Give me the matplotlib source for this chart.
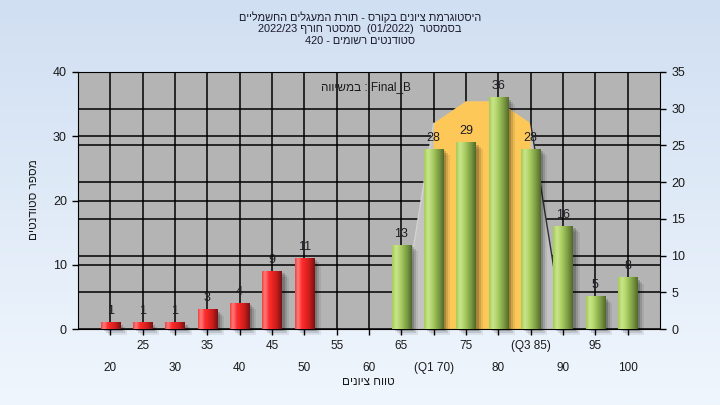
import re
import numpy as np
import matplotlib
matplotlib.use("Agg")
import matplotlib.pyplot as plt
from matplotlib.patches import Rectangle
from matplotlib.colors import LinearSegmentedColormap
from matplotlib.transforms import blended_transform_factory, ScaledTranslation

plt.rcParams['font.family'] = ['Liberation Sans', 'DejaVu Sans']

# --- data ---
grades = [20, 25, 30, 35, 40, 45, 50, 55, 60, 65, 70, 75, 80, 85, 90, 95, 100]
counts = [1, 1, 1, 3, 4, 9, 11, 0, 0, 13, 28, 29, 36, 28, 16, 5, 8]
tick_labels = ['20', '25', '30', '35', '40', '45', '50', '55', '60', '65',
               '(Q1 70)', '75', '80', '(Q3 85)', '90', '95', '100']
fail_below = 55
# bell shape, right-hand scale
curve_x = [65, 70, 75, 80, 85, 90]
curve_y = [1, 28, 31, 31, 28, 0.5]
q1, q3 = 70, 85

title_lines = ['היסטוגרמת ציונים בקורס - תורת המעגלים החשמליים',
               'בסמסטר  (01/2022)  סמסטר חורף 2022/23',
               'סטודנטים רשומים - 420']
legend_text = 'Final_B : במשיווה'
x_title = 'טווח ציונים'
y_title = 'מספר סטודנטים'


def vis(s):
    # matplotlib has no bidi: turn a logical Hebrew string into visual order
    r = s[::-1]
    r = re.sub(r'[0-9A-Za-z_/.]+', lambda m: m.group(0)[::-1], r)
    return r.translate(str.maketrans('()', ')('))


fig = plt.figure(figsize=(7.2, 4.05), dpi=100)

# background gradient
bg = fig.add_axes([0, 0, 1, 1], zorder=-10)
bg.imshow(np.linspace(0, 1, 256)[:, None], aspect='auto', extent=[0, 1, 0, 1],
          cmap=LinearSegmentedColormap.from_list('bg', ['#d0dff2', '#f0f6fd']))
bg.axis('off')

ax = fig.add_axes([78 / 720, 1 - 329 / 405, 582 / 720, 257 / 405])
ax.set_facecolor('#b4b4b4')
ax2 = ax.twinx()
ax.set_xlim(15, 105)
ax.set_ylim(0, 40)
ax2.set_ylim(0, 35)

# grids (left scale + right scale), under everything else
ax.set_axisbelow(True)
ax.set_xticks(grades)
ax.set_xticklabels([])
ax.set_yticks(range(0, 41, 10))
ax.grid(True, color='black', linewidth=1.1)
tr = blended_transform_factory(ax.transAxes, ax2.transData)
for v in range(5, 36, 5):
    ax.plot([0, 1], [v, v], transform=tr, color='black', lw=1.1, zorder=0.6)

# bell area: gray outside the quartiles, orange inside
xs = [curve_x[0]] + curve_x + [curve_x[-1]]
ys = [0] + curve_y + [0]
ax.fill(xs, ys, transform=ax2.transData, color='#c3c3c3', lw=0, zorder=1)
iq = [i for i, x in enumerate(curve_x) if q1 <= x <= q3]
ox = [q1] + [curve_x[i] for i in iq] + [q3]
oy = [0] + [curve_y[i] for i in iq] + [0]
ax.fill(ox, oy, transform=ax2.transData, color='#fdc857', lw=0, zorder=1.1)
ax.plot(curve_x[:2], curve_y[:2], transform=ax2.transData, color='#d2d2d2', lw=1, zorder=1.2)
ax.plot(curve_x[-2:], curve_y[-2:], transform=ax2.transData, color='#303030', lw=1, zorder=1.2)

# cylinder-like bars
red = LinearSegmentedColormap.from_list('r', [(0, '#e84545'), (0.15, '#ff7a7a'), (0.35, '#ff2c2c'),
                                               (0.7, '#d21e1e'), (1, '#7a1212')])
green = LinearSegmentedColormap.from_list('g', [(0, '#a4cc55'), (0.2, '#cbe68c'), (0.45, '#a9cc62'),
                                                 (0.75, '#7c9c42'), (1, '#4f6a2a')])
grad = np.linspace(0, 1, 64)[None, :]
w = 3.0
for g, c in zip(grades, counts):
    if c == 0:
        continue
    for k, a in [(3, 0.18), (5, 0.12), (7, 0.07)]:
        sh = ax.transData + ScaledTranslation(k / 100, -k / 100 + 0.01, fig.dpi_scale_trans)
        ax.add_patch(Rectangle((g - w / 2, 0), w, c, transform=sh, facecolor='black',
                               alpha=a, lw=0, zorder=2, clip_on=False))
    ax.imshow(grad, cmap=red if g < fail_below else green, aspect='auto',
              extent=[g - w / 2, g + w / 2, 0, c], zorder=3, interpolation='bilinear')
    ax.annotate(str(c), (g, c), xytext=(0, 4), textcoords='offset points',
                ha='center', va='bottom', fontsize=9, color='#1c1c24', zorder=4)
ax.set_xlim(15, 105)
ax.set_ylim(0, 40)

# x tick labels in two staggered rows
for i, (g, lab) in enumerate(zip(grades, tick_labels)):
    dy = -39 if i % 2 == 0 else -17
    ax.annotate(lab, (g, 0), xycoords=('data', 'axes fraction'), xytext=(0, dy * 0.72),
                textcoords='offset points', ha='center', va='center', fontsize=8.5, color='#1a1a1a')

ax.tick_params(axis='x', length=4, width=1, color='black')
ax.tick_params(axis='y', length=4.5, width=1, labelsize=9, labelcolor='#1a1a1a')
ax2.set_yticks(range(0, 36, 5))
ax2.tick_params(axis='y', length=4.5, width=1, labelsize=9, labelcolor='#1a1a1a')
for sp in ax.spines.values():
    sp.set_color('black')
for sp in ax2.spines.values():
    sp.set_visible(False)

ax.text(0.495, 0.94, vis(legend_text), transform=ax.transAxes, ha='center', va='center',
        fontsize=8.5, color='#1a1a1a', zorder=5)

for k, line in enumerate(title_lines):
    fig.text(0.5, 1 - (17 + 12 * k) / 405, vis(line), ha='center', va='center',
             fontsize=7.9, color='#1a1a2a')
fig.text(368 / 720, 1 - 382 / 405, vis(x_title), ha='center', va='center', fontsize=8.5, color='#1a1a1a')
fig.text(34 / 720, 1 - 200 / 405, vis(y_title), ha='center', va='center', rotation=90,
         fontsize=8.5, color='#1a1a1a')

fig.savefig('out.png', dpi=100)
